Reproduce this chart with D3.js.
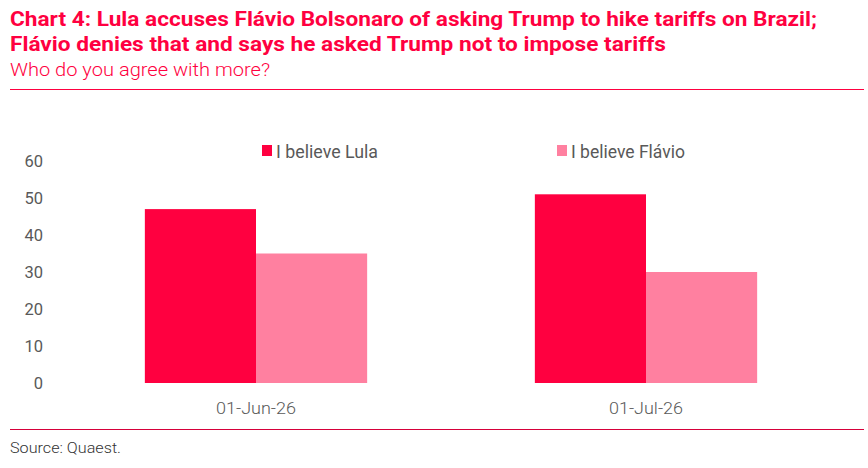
<!DOCTYPE html>
<html>
<head>
<meta charset="utf-8">
<script src="https://cdn.jsdelivr.net/npm/d3@7"></script>
<style>
  body { margin: 0; background: #fff; }
  svg { display: block; font-family: Roboto, "Noto Sans", sans-serif; }
</style>
</head>
<body>
<div id="chart"></div>
<script>
(function(){

// Data
let categories = ['01-Jun-26', '01-Jul-26']
let seriesNames = ['I believe Lula', 'I believe Flávio']
let lula = [47, 51]
let flavio = [35, 30]
let yTicks = [0, 10, 20, 30, 40, 50, 60]

let red = '#ff0040'
let pink = '#ff80a0'
let grey = '#595959'

let W = 868, H = 468
let margin = { top: 161, left: 61, right: 27, bottom: 85 }
let width = W - margin.left - margin.right
let height = H - margin.top - margin.bottom

let svg = d3.select('#chart').append('svg')
  .attr('width', W)
  .attr('height', H)

// Titles
svg.append('text')
  .attr('x', 10).attr('y', 26)
  .attr('fill', red)
  .attr('font-size', 20).attr('font-weight', 700)
  .attr('textLength', 807).attr('lengthAdjust', 'spacingAndGlyphs')
  .text('Chart 4: Lula accuses Flávio Bolsonaro of asking Trump to hike tariffs on Brazil;')

svg.append('text')
  .attr('x', 10).attr('y', 51)
  .attr('fill', red)
  .attr('font-size', 20).attr('font-weight', 700)
  .attr('textLength', 656).attr('lengthAdjust', 'spacingAndGlyphs')
  .text('Flávio denies that and says he asked Trump not to impose tariffs')

svg.append('text')
  .attr('x', 10).attr('y', 76)
  .attr('fill', red)
  .attr('font-size', 18.5).attr('font-weight', 300)
  .attr('textLength', 260).attr('lengthAdjust', 'spacingAndGlyphs')
  .text('Who do you agree with more?')

svg.append('rect')
  .attr('x', 10).attr('width', 854)
  .attr('y', 89).attr('height', 1)
  .attr('fill', red)

// Scales
let x0 = d3.scaleBand().domain(categories).range([0, width]).paddingInner(0.43).paddingOuter(0.215)
let x1 = d3.scaleBand().domain(seriesNames).range([0, x0.bandwidth()])
let y = d3.scaleLinear().domain([0, 60]).range([height, 0])
let color = d3.scaleOrdinal().domain(seriesNames).range([red, pink])

let g = svg.append('g')
  .attr('transform', 'translate(' + margin.left + ',' + margin.top + ')')

let rows = categories.map(function(c, i){
  return { cat: c, values: [ { name: seriesNames[0], v: lula[i] }, { name: seriesNames[1], v: flavio[i] } ] }
})

g.selectAll('.group')
  .data(rows)
  .enter().append('g')
  .attr('class', 'group')
  .attr('transform', function(d){ return 'translate(' + x0(d.cat) + ',0)' })
  .selectAll('rect')
  .data(function(d){ return d.values })
  .enter().append('rect')
  .attr('x', function(d){ return x1(d.name) })
  .attr('width', x1.bandwidth())
  .attr('y', function(d){ return y(d.v) })
  .attr('height', function(d){ return height - y(d.v) })
  .attr('fill', function(d){ return color(d.name) })

// Axes
let yAxis = d3.axisLeft(y).tickValues(yTicks).tickSize(0).tickPadding(0)
let yG = g.append('g')
  .attr('transform', 'translate(-18,0)')
  .call(yAxis)
yG.select('.domain').remove()
yG.selectAll('text')
  .attr('fill', grey)
  .attr('font-size', 16.5)
  .attr('font-family', 'Roboto, sans-serif')

let xAxis = d3.axisBottom(x0).tickSize(0).tickPadding(0)
let xG = g.append('g')
  .attr('transform', 'translate(0,' + height + ')')
  .call(xAxis)
xG.select('.domain').remove()
xG.selectAll('text')
  .attr('dy', null)
  .attr('y', 31)
  .attr('fill', grey)
  .attr('font-size', 17)
  .attr('font-weight', 300)
  .attr('font-family', 'Roboto, sans-serif')
  .attr('textLength', function(d, i){ return i === 0 ? 80 : 74 })
  .attr('lengthAdjust', 'spacingAndGlyphs')

// Legend
let legendX = [262, 557]
let legendLen = [102, 114]
let legend = svg.selectAll('.legend')
  .data(seriesNames)
  .enter().append('g')
  .attr('class', 'legend')
  .attr('transform', function(d, i){ return 'translate(' + legendX[i] + ',145)' })
legend.append('rect')
  .attr('width', 10).attr('height', 11)
  .attr('fill', function(d){ return color(d) })
legend.append('text')
  .attr('x', 14).attr('y', 13)
  .attr('fill', grey)
  .attr('font-size', 17.5)
  .attr('textLength', function(d, i){ return legendLen[i] })
  .attr('lengthAdjust', 'spacingAndGlyphs')
  .text(function(d){ return d })

// Footer
svg.append('rect')
  .attr('x', 10).attr('width', 854)
  .attr('y', 429).attr('height', 1)
  .attr('fill', '#d6003a')

svg.append('text')
  .attr('x', 10).attr('y', 453)
  .attr('fill', '#333')
  .attr('font-size', 14.5).attr('font-weight', 300)
  .attr('textLength', 111).attr('lengthAdjust', 'spacingAndGlyphs')
  .text('Source: Quaest.')

})()
</script>
</body>
</html>
